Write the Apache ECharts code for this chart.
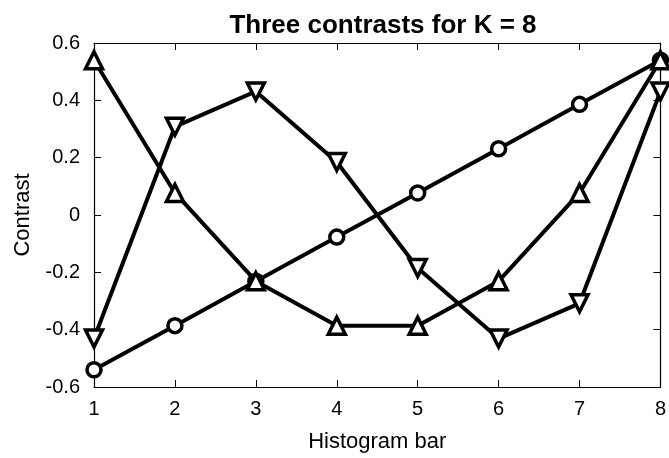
<!DOCTYPE html>
<html><head><meta charset="utf-8">
<script src="https://cdn.jsdelivr.net/npm/echarts@6/dist/echarts.min.js"></script>
<style>html,body{margin:0;padding:0;background:#fff}#c{width:669px;height:458px}</style>
</head><body><div id="c"></div>
<script>
const bars = [1, 2, 3, 4, 5, 6, 7, 8];
const linear = [-0.540, -0.386, -0.231, -0.077, 0.077, 0.231, 0.386, 0.540];
const quadratic = [0.540, 0.077, -0.231, -0.386, -0.386, -0.231, 0.077, 0.540];
const cubic = [-0.431, 0.308, 0.431, 0.185, -0.185, -0.431, -0.308, 0.431];
const yTicks = [-0.6, -0.4, -0.2, 0, 0.2, 0.4, 0.6];

const F = '"Liberation Sans", Arial, sans-serif';
const pts = arr => bars.map((b, i) => [b, arr[i]]);
const base = {
  type: 'line', showSymbol: true,
  lineStyle: { color: '#000', width: 4 },
  itemStyle: { color: '#fff', borderColor: '#000', borderWidth: 3.5 },
  emphasis: { disabled: true }, animation: false, z: 3
};
const frameAxis = {
  axisLine: { show: true, onZero: false, lineStyle: { color: '#000', width: 1.2 } },
  axisTick: { inside: true, length: 7, lineStyle: { color: '#000', width: 1 } },
  splitLine: { show: false }
};
const chart = echarts.init(document.getElementById('c'), null, { renderer: 'canvas' });
chart.setOption({
  animation: false,
  title: { text: 'Three contrasts for K = 8', left: 378, textAlign: 'center', top: 8,
    textStyle: { fontFamily: F, fontWeight: 'bold', fontSize: 26, color: '#000' } },
  grid: { left: 94, right: 6, top: 43, bottom: 64 },
  xAxis: [Object.assign({}, frameAxis, {
    type: 'value', min: 1, max: 8, interval: 1, name: 'Histogram bar', nameLocation: 'middle', nameGap: 44,
    nameTextStyle: { fontFamily: F, fontSize: 22, color: '#000' },
    axisLabel: { fontFamily: F, fontSize: 20, color: '#000', margin: 12 }
  }), Object.assign({}, frameAxis, {
    type: 'value', position: 'top', min: 1, max: 8, interval: 1,
    axisLabel: { show: false }
  })],
  yAxis: [Object.assign({}, frameAxis, {
    type: 'value', min: -0.6, max: 0.6, interval: 0.2, name: 'Contrast', nameLocation: 'middle', nameGap: 60,
    nameTextStyle: { fontFamily: F, fontSize: 22, color: '#000' },
    axisLabel: { fontFamily: F, fontSize: 20, color: '#000', margin: 14,
      formatter: v => { const r = Math.round(v * 10) / 10; return r === 0 ? '0' : String(r); } }
  }), Object.assign({}, frameAxis, {
    type: 'value', position: 'right', min: -0.6, max: 0.6, interval: 0.2,
    axisLabel: { show: false }
  })],
  series: [
    Object.assign({}, base, { name: 'linear', symbol: 'circle', symbolSize: 14, data: pts(linear) }),
    Object.assign({}, base, { name: 'quadratic', symbol: 'triangle', symbolSize: 17, data: pts(quadratic) }),
    Object.assign({}, base, { name: 'cubic', symbol: 'triangle', symbolRotate: 180, symbolSize: 17, data: pts(cubic) })
  ]
});
</script></body></html>
